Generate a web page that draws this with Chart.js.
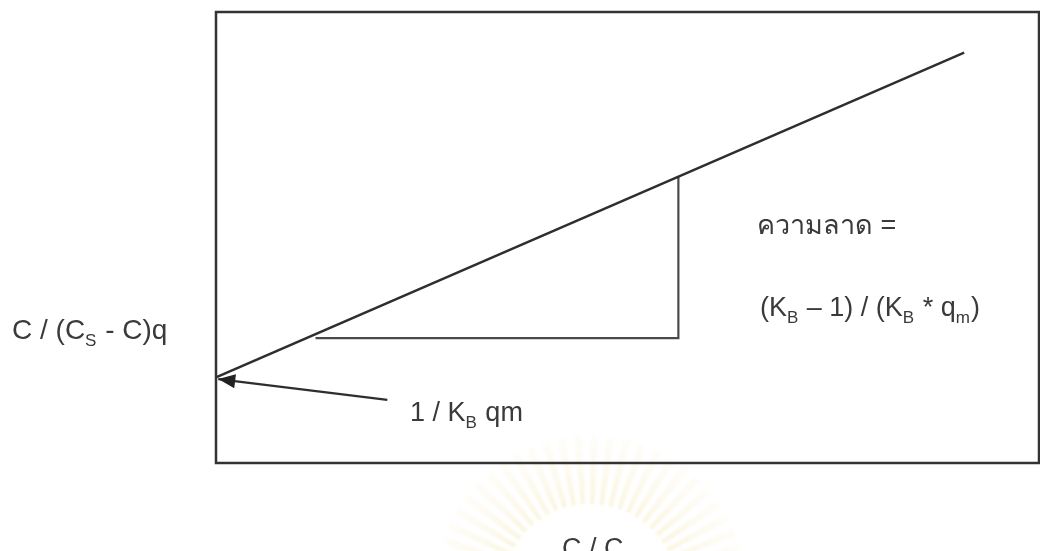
<!DOCTYPE html>
<html>
<head>
<meta charset="utf-8">
<script src="https://cdn.jsdelivr.net/npm/chart.js@4"></script>
<style>
  html, body { margin: 0; padding: 0; background: #fff; }
  #wrap { width: 1040px; height: 551px; position: relative; }
</style>
</head>
<body>
<div id="wrap"><canvas id="bet"></canvas></div>
<script>
'use strict';

// ─── Data (arbitrary units, C/Cs on x, C/(Cs-C)q on y) ──────────────────────
const xRange = [0, 11];
const yRange = [0, 10];
const fitLine  = [{ x: 0, y: 1.9 }, { x: 10, y: 9.1 }];
const slopeLeg = [{ x: 1.33, y: 2.77 }, { x: 6.18, y: 2.77 }, { x: 6.18, y: 6.35 }];
const arrowPts = [{ x: 2.29, y: 1.40 }, { x: 0.03, y: 1.86 }];

const FONT = "'Liberation Sans', Arial, sans-serif";
const INK = '#3a3a3a';

// text runs: [text, isSubscript]
const labels = [
  { x: 12,  y: 339, size: 28, runs: [['C / (C', 0], ['S', 1], [' - C)q', 0]] },
  { x: 757, y: 234, size: 27, runs: [['ความลาด =', 0]] },
  { x: 760, y: 316, size: 27, runs: [['(K', 0], ['B', 1], [' – 1) / (K', 0], ['B', 1], [' * q', 0], ['m', 1], [')', 0]] },
  { x: 410, y: 421, size: 27, runs: [['1 / K', 0], ['B', 1], [' qm', 0]] },
  { x: 562, y: 557, size: 27, runs: [['C / C', 0], ['S', 1]] },
];

function drawRuns(ctx, lbl) {
  let x = lbl.x;
  const subSize = Math.round(lbl.size * 0.62);
  for (const [t, sub] of lbl.runs) {
    ctx.font = `${sub ? subSize : lbl.size}px ${FONT}`;
    ctx.fillText(t, x, lbl.y + (sub ? Math.round(lbl.size * 0.26) : 0));
    x += ctx.measureText(t).width + (sub ? 1 : 0);
  }
}

// faint sunburst printed behind the page
const burst = {
  id: 'burst',
  beforeDraw(chart) {
    const ctx = chart.ctx;
    const cx = 590, cy = 592, r0 = 88, r1 = 156, n = 30;
    ctx.save();
    ctx.filter = 'blur(1px)';
    for (let i = 0; i < n; i++) {
      const a0 = Math.PI + (i / n) * Math.PI;
      const a1 = a0 + (Math.PI / n) * 0.5;
      const g = ctx.createRadialGradient(cx, cy, r0, cx, cy, r1);
      g.addColorStop(0, 'rgba(246,234,188,0.45)');
      g.addColorStop(1, 'rgba(250,244,222,0.2)');
      ctx.beginPath();
      ctx.moveTo(cx + r0 * Math.cos(a0), cy + r0 * Math.sin(a0));
      ctx.lineTo(cx + r1 * Math.cos(a0), cy + r1 * Math.sin(a0));
      ctx.lineTo(cx + r1 * Math.cos(a1), cy + r1 * Math.sin(a1));
      ctx.lineTo(cx + r0 * Math.cos(a1), cy + r0 * Math.sin(a1));
      ctx.closePath();
      ctx.fillStyle = g;
      ctx.fill();
    }
    ctx.restore();
  }
};

// plot frame, arrowhead and labels
const decor = {
  id: 'decor',
  afterDatasetsDraw(chart) {
    const ctx = chart.ctx;
    const { left, top, right, bottom } = chart.chartArea;
    const xs = chart.scales.x, ys = chart.scales.y;
    ctx.save();
    ctx.strokeStyle = '#333';
    ctx.lineWidth = 2.5;
    ctx.strokeRect(left, top, right - left, bottom - top);

    // arrowhead at the intercept end
    const p0 = arrowPts[0], p1 = arrowPts[1];
    const tx = xs.getPixelForValue(p1.x), ty = ys.getPixelForValue(p1.y);
    const fx = xs.getPixelForValue(p0.x), fy = ys.getPixelForValue(p0.y);
    const ang = Math.atan2(ty - fy, tx - fx);
    const len = 17, half = 7;
    ctx.beginPath();
    ctx.moveTo(tx, ty);
    ctx.lineTo(tx - len * Math.cos(ang) + half * Math.sin(ang), ty - len * Math.sin(ang) - half * Math.cos(ang));
    ctx.lineTo(tx - len * Math.cos(ang) - half * Math.sin(ang), ty - len * Math.sin(ang) + half * Math.cos(ang));
    ctx.closePath();
    ctx.fillStyle = '#222';
    ctx.fill();

    ctx.fillStyle = INK;
    ctx.textBaseline = 'alphabetic';
    ctx.textAlign = 'left';
    labels.forEach(l => drawRuns(ctx, l));
    ctx.restore();
  }
};

const lineStyle = { showLine: true, pointRadius: 0, fill: false, tension: 0 };

new Chart(document.getElementById('bet'), {
  type: 'scatter',
  data: {
    datasets: [
      { ...lineStyle, data: fitLine,  borderColor: '#2e2e2e', borderWidth: 2.4 },
      { ...lineStyle, data: slopeLeg, borderColor: '#4a4a4a', borderWidth: 2.2 },
      { ...lineStyle, data: arrowPts, borderColor: '#2e2e2e', borderWidth: 2.2 },
    ]
  },
  options: {
    responsive: true,
    maintainAspectRatio: false,
    animation: false,
    layout: { padding: { left: 216, top: 12, right: 1, bottom: 88 } },
    scales: {
      x: { type: 'linear', min: xRange[0], max: xRange[1], display: false },
      y: { type: 'linear', min: yRange[0], max: yRange[1], display: false },
    },
    plugins: { legend: { display: false }, tooltip: { enabled: false } }
  },
  plugins: [burst, decor]
});
</script>
</body>
</html>
